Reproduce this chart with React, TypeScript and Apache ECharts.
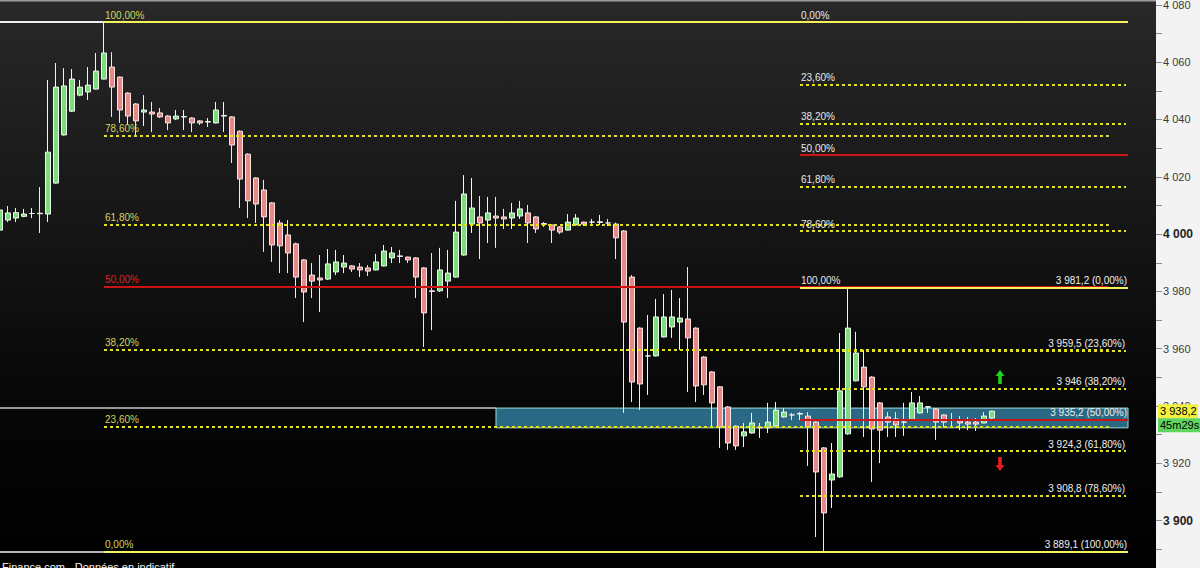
import React, { useEffect, useRef } from "react";
import * as echarts from "echarts";

// ---- candle data ----
const opens = [
  4001.4, 4004.9, 4005.6, 4006.2, 4007.2, 4007.3, 4007.0, 4017.8, 4034.6, 4042.9,
  4048.5, 4049.6, 4050.6, 4054.1, 4058.3, 4054.8, 4049.2, 4045.4, 4042.6, 4042.6,
  4042.3, 4041.2, 4040.2, 4040.9, 4040.5, 4039.5, 4039.1, 4038.8, 4041.2, 4040.9,
  4035.9, 4027.9, 4019.6, 4015.4, 4010.9, 4003.9, 3999.7, 3996.6, 3991.0, 3985.7,
  3984.7, 3984.3, 3986.8, 3988.5, 3988.9, 3988.5, 3988.2, 3987.5, 3988.9, 3991.7,
  3992.4, 3992.0, 3991.7, 3988.2, 3980.2, 3980.2, 3983.6, 3985.0, 3992.7, 4003.5,
  4006.0, 4004.9, 4006.3, 4006.0, 4005.6, 4006.3, 4007.4, 4006.0, 4003.7, 4003.2,
  4002.5, 4001.4, 4003.2, 4004.2, 4004.2, 4004.1, 4003.9, 4003.5, 4001.1, 3985.0,
  3967.2, 3957.5, 3957.5, 3964.1, 3967.6, 3969.3, 3970.4, 3967.2, 3957.1, 3951.9,
  3946.7, 3939.7, 3933.0, 3929.6, 3930.6, 3932.4, 3932.4, 3933.0, 3936.2, 3936.9,
  3937.2, 3936.5, 3934.4, 3925.4, 3914.2, 3915.3, 3930.3, 3948.8, 3953.6, 3950.1,
  3941.1, 3936.2, 3935.5, 3934.4, 3935.1, 3937.6, 3939.6, 3939.0, 3936.9, 3935.3,
  3934.8, 3934.4, 3934.4, 3934.1, 3935.8,
];
const closes = [
  4008.4, 4007.4, 4007.5, 4007.0, 4007.2, 4007.1, 4028.6, 4051.3, 4051.7, 4054.1,
  4051.3, 4052.0, 4056.9, 4063.2, 4051.3, 4043.3, 4041.2, 4039.5, 4043.3, 4041.9,
  4040.9, 4038.8, 4041.2, 4041.0, 4038.8, 4038.8, 4039.3, 4043.3, 4041.4, 4031.1,
  4019.2, 4011.6, 4010.5, 4006.0, 3996.2, 3995.9, 3993.4, 3985.0, 3979.8, 3983.6,
  3984.0, 3989.6, 3990.3, 3989.9, 3987.8, 3987.5, 3987.1, 3990.3, 3994.1, 3993.4,
  3992.2, 3991.0, 3985.0, 3972.5, 3980.0, 3987.5, 3986.4, 4000.7, 4014.0, 4009.1,
  4003.9, 4007.4, 4005.6, 4005.3, 4007.4, 4008.8, 4003.9, 4001.8, 4003.4, 4001.4,
  4000.7, 4004.2, 4005.6, 4003.5, 4004.2, 4004.3, 4003.9, 3998.7, 3969.3, 3948.4,
  3947.7, 3957.5, 3971.1, 3971.1, 3971.1, 3970.7, 3963.8, 3947.0, 3947.4, 3941.1,
  3932.7, 3927.1, 3926.1, 3931.0, 3934.1, 3932.6, 3934.4, 3938.6, 3937.9, 3936.9,
  3937.4, 3932.7, 3917.0, 3902.7, 3916.3, 3945.3, 3967.2, 3958.5, 3946.7, 3932.0,
  3931.6, 3934.4, 3933.4, 3934.4, 3941.1, 3941.1, 3939.8, 3934.4, 3934.4, 3935.1,
  3934.1, 3933.7, 3933.7, 3936.5, 3938.2,
];
const lows = [
  4000.0, 4004.2, 4004.2, 4005.9, 4005.6, 4000.4, 4004.2, 4017.6, 4034.4, 4042.6,
  4048.1, 4046.8, 4050.4, 4054.0, 4040.9, 4038.8, 4038.1, 4034.2, 4037.7, 4035.6,
  4040.5, 4036.3, 4039.8, 4036.3, 4035.6, 4038.1, 4037.4, 4038.6, 4035.6, 4024.8,
  4009.1, 4005.6, 4003.9, 3993.8, 3990.3, 3986.4, 3986.4, 3977.7, 3969.3, 3977.7,
  3972.8, 3984.0, 3985.7, 3986.4, 3986.8, 3985.0, 3985.4, 3987.3, 3988.7, 3989.9,
  3989.9, 3989.9, 3977.7, 3960.6, 3966.5, 3979.8, 3977.7, 3984.8, 3992.5, 4000.4,
  3991.3, 3996.9, 3995.2, 4001.8, 4001.8, 4005.3, 3996.9, 4000.4, 4002.5, 3996.9,
  4000.0, 4001.2, 4003.0, 4002.8, 4002.8, 4003.2, 4002.8, 3991.3, 3937.6, 3941.4,
  3938.6, 3943.9, 3957.3, 3964.0, 3963.8, 3959.6, 3944.9, 3941.4, 3943.9, 3933.0,
  3925.4, 3924.7, 3924.7, 3925.7, 3930.4, 3928.9, 3930.6, 3932.8, 3936.0, 3935.1,
  3935.1, 3919.1, 3894.3, 3889.1, 3904.4, 3915.0, 3930.0, 3948.6, 3929.2, 3913.5,
  3920.1, 3929.2, 3929.2, 3929.6, 3935.0, 3937.4, 3937.6, 3928.2, 3932.7, 3932.7,
  3931.6, 3931.6, 3931.3, 3934.0, 3935.6,
];
const highs = [
  4011.9, 4009.8, 4009.1, 4008.8, 4009.1, 4016.4, 4053.8, 4059.7, 4057.9, 4057.6,
  4053.8, 4058.3, 4063.2, 4074.0, 4063.5, 4055.0, 4049.5, 4045.7, 4048.5, 4046.1,
  4044.0, 4041.5, 4043.3, 4043.3, 4040.8, 4039.8, 4040.5, 4046.1, 4046.1, 4041.2,
  4036.2, 4028.2, 4019.9, 4018.9, 4011.2, 4004.9, 4004.9, 3997.0, 3991.3, 3989.9,
  3992.7, 3994.8, 3994.5, 3992.7, 3989.2, 3989.9, 3989.2, 3993.1, 3996.2, 3995.5,
  3994.5, 3992.1, 3992.0, 3988.5, 3993.4, 3995.2, 3994.5, 4011.6, 4020.6, 4019.6,
  4013.3, 4013.0, 4013.0, 4008.8, 4010.9, 4011.6, 4010.2, 4006.3, 4004.2, 4003.4,
  4002.8, 4007.0, 4007.0, 4004.3, 4005.3, 4006.7, 4005.3, 4004.0, 4001.4, 3985.7,
  3967.5, 3971.8, 3977.4, 3979.1, 3980.5, 3977.7, 3988.5, 3967.5, 3957.4, 3952.2,
  3947.0, 3940.0, 3933.3, 3934.1, 3937.6, 3934.1, 3941.1, 3941.4, 3939.3, 3937.6,
  3937.9, 3937.9, 3934.7, 3925.7, 3927.1, 3965.5, 3981.2, 3965.9, 3959.6, 3950.4,
  3941.4, 3937.9, 3937.9, 3941.1, 3944.9, 3943.5, 3940.0, 3939.3, 3937.2, 3937.6,
  3936.5, 3936.2, 3935.8, 3937.9, 3938.4,
];

// ---- Fibonacci anchors & levels ----
const fibPcts = [0, 23.6, 38.2, 50, 61.8, 78.6, 100];
const swingHigh = 4074.0; // high of candle 13
const swingLow = 3889.1; // low of candle 103
const reboundHigh = 3981.2; // high of candle 106
const leftFibStart = 13;
const leftFibEnd = 138.6;
const rightFibStart = 100;
const rightFibEnd = 141;
const rightDottedEnd = 140.75;

// ---- zone, arrows, current price ----
const zoneStart = 62;
const zoneTop = 3939.3;
const zoneBottom = 3932.4;
const arrowX = 125;
const upArrowPrice = 3950.1;
const downArrowPrice = 3919.8;
const lastPrice = 3938.2;
const countdown = "45m29s";
const footer = "Finance.com - Données en indicatif";

// ---- axes ----
const xMin = 0;
const xMax = 144.5;
const yMin = 3880;
const yMax = 4090;
const yStep = 10;
const yLabelStep = 20;

const FONT = "Liberation Sans";
const YEL_SOLID = "#f4f45a";
const YEL_DOT = "#e2e224";
const RED = "#cc1414";

function fmtInt(n: number): string {
  const s = String(Math.trunc(Math.abs(n)));
  return (n < 0 ? "-" : "") + s.replace(/\B(?=(\d{3})+(?!\d))/g, " ");
}
function fmtPrice(v: number): string {
  const r = Math.round(v * 10) / 10;
  const ip = Math.trunc(r);
  const dec = Math.round((r - ip) * 10);
  return dec === 0 ? fmtInt(ip) : `${fmtInt(ip)},${dec}`;
}
function fmtPct(p: number): string {
  return p.toFixed(2).replace(".", ",") + "%";
}

function levelStyle(p: number, dottedColor: string) {
  if (p === 0 || p === 100) return { color: YEL_SOLID, width: 2, type: "solid" as const };
  if (p === 50) return { color: RED, width: 2, type: "solid" as const };
  return { color: dottedColor, width: 2, type: [3, 3] };
}

function buildMarkLines() {
  const lines: any[] = [];
  // left retracement (swing high -> swing low)
  fibPcts.forEach((p) => {
    const price = swingLow + (p / 100) * (swingHigh - swingLow);
    lines.push([
      {
        xAxis: leftFibStart,
        yAxis: price,
        lineStyle: levelStyle(p, YEL_DOT),
        label: {
          show: true,
          position: "insideStartTop",
          distance: [1, 2],
          formatter: fmtPct(p),
          color: p === 50 ? "#e02020" : "#d4d45c",
          fontSize: 10,
          fontFamily: FONT,
        },
      },
      { xAxis: leftFibEnd, yAxis: price },
    ]);
  });
  // right upper retracement (swing high -> rebound high)
  fibPcts.forEach((p) => {
    const price = swingHigh - (p / 100) * (swingHigh - reboundHigh);
    const solid = p === 0 || p === 100 || p === 50;
    lines.push([
      {
        xAxis: rightFibStart,
        yAxis: price,
        lineStyle: levelStyle(p, YEL_DOT),
        label: {
          show: true,
          position: "insideStartTop",
          distance: [1, 2],
          formatter: fmtPct(p),
          color: "#e8e8e8",
          fontSize: 10,
          fontFamily: FONT,
        },
      },
      { xAxis: solid ? rightFibEnd : rightDottedEnd, yAxis: price },
    ]);
  });
  // right lower retracement (rebound high -> swing low)
  fibPcts.forEach((p) => {
    const price = reboundHigh - (p / 100) * (reboundHigh - swingLow);
    const solid = p === 0 || p === 100 || p === 50;
    lines.push([
      {
        xAxis: rightFibStart,
        yAxis: price,
        lineStyle: levelStyle(p, YEL_DOT),
        label: {
          show: true,
          position: "insideEndTop",
          distance: [1, 2],
          formatter: `${fmtPrice(price)} (${fmtPct(p)})`,
          color: "#f0f0f0",
          fontSize: 10,
          fontFamily: FONT,
        },
      },
      { xAxis: solid ? rightFibEnd : rightDottedEnd, yAxis: price },
    ]);
  });
  // extensions on the left
  lines.push([
    { xAxis: xMin, yAxis: swingHigh, lineStyle: { color: "#eeeeee", width: 2, type: "solid" }, label: { show: false } },
    { xAxis: leftFibStart, yAxis: swingHigh },
  ]);
  lines.push([
    { xAxis: xMin, yAxis: swingLow, lineStyle: { color: "#b4b4b4", width: 2, type: "solid" }, label: { show: false } },
    { xAxis: leftFibStart, yAxis: swingLow },
  ]);
  lines.push([
    { xAxis: xMin, yAxis: zoneTop, lineStyle: { color: "#c8c8c8", width: 1.5, type: "solid" }, label: { show: false } },
    { xAxis: zoneStart, yAxis: zoneTop },
  ]);
  return lines;
}

export default function App() {
  const ref = useRef<HTMLDivElement>(null);

  useEffect(() => {
    if (!ref.current) return;
    const chart = echarts.init(ref.current, null, { renderer: "svg" });
    const candles = opens.map((o, i) => [i, o, closes[i], lows[i], highs[i]]);

    const option: any = {
      animation: false,
      backgroundColor: "transparent",
      grid: {
        left: 0,
        right: 44,
        top: -23.8,
        bottom: -10,
        containLabel: false,
        outerBoundsMode: "none",
      },
      xAxis: { type: "value", min: xMin, max: xMax, show: false },
      yAxis: {
        type: "value",
        position: "right",
        min: yMin,
        max: yMax,
        interval: yStep,
        splitLine: { show: false },
        axisLine: { show: false, onZero: false },
        axisTick: { show: true, inside: false, length: 6, lineStyle: { color: "#8c8c8c", width: 1 } },
        axisLabel: {
          margin: 7,
          showMinLabel: false,
          showMaxLabel: false,
          color: "#3a3a3a",
          fontSize: 11,
          fontFamily: FONT,
          formatter: (v: number) => {
            if (Math.round(v) % yLabelStep !== 0) return "";
            const s = fmtInt(v);
            return Math.round(v) % 100 === 0 ? `{b|${s}}` : s;
          },
          rich: { b: { fontWeight: "bold", fontSize: 12, color: "#222", fontFamily: FONT } },
        },
      },
      series: [
        {
          type: "candlestick",
          data: candles,
          encode: { x: 0, y: [1, 2, 3, 4] },
          barWidth: 6,
          itemStyle: {
            color: "#7ddc7d",
            color0: "#ea8888",
            borderColor: "#eef8ee",
            borderColor0: "#f6e6e6",
            borderWidth: 1,
          },
          markArea: {
            silent: true,
            data: [
              [
                {
                  xAxis: zoneStart,
                  yAxis: zoneTop,
                  itemStyle: { color: "#2a6883", borderColor: "#9cdede", borderWidth: 1 },
                },
                { xAxis: rightFibEnd, yAxis: zoneBottom },
              ],
            ],
          },
          markLine: {
            silent: true,
            symbol: ["none", "none"],
            data: buildMarkLines(),
          },
          markPoint: {
            silent: true,
            label: { show: false },
            data: [
              {
                coord: [arrowX, upArrowPrice],
                symbol: "path://M5,0 L10,6 L7,6 L7,14 L3,14 L3,6 L0,6 Z",
                symbolSize: [9, 14],
                itemStyle: { color: "#1fd11f" },
              },
              {
                coord: [arrowX, downArrowPrice],
                symbol: "path://M3,0 L7,0 L7,8 L10,8 L5,14 L0,8 L3,8 Z",
                symbolSize: [9, 14],
                itemStyle: { color: "#e51c1c" },
              },
            ],
          },
        },
      ],
    };
    chart.setOption(option);

    const yLast = chart.convertToPixel({ yAxisIndex: 0 }, lastPrice) as number;
    chart.setOption({
      graphic: [
        {
          type: "rect",
          z: 100,
          shape: { x: 1158, y: yLast - 7, width: 40, height: 14 },
          style: { fill: "#f2f23c" },
        },
        {
          type: "text",
          z: 101,
          x: 1160,
          y: yLast - 6,
          style: { text: fmtPrice(lastPrice), fill: "#000", font: `11px "${FONT}"` },
        },
        {
          type: "rect",
          z: 100,
          shape: { x: 1158, y: yLast + 7, width: 42, height: 14 },
          style: { fill: "#5fd45f" },
        },
        {
          type: "text",
          z: 101,
          x: 1160,
          y: yLast + 8.5,
          style: { text: countdown, fill: "#000", font: `11px "${FONT}"` },
        },
        {
          type: "text",
          z: 101,
          x: 2,
          y: 561,
          style: { text: footer, fill: "#f4f4f4", font: `11px "${FONT}"` },
        },
      ],
    });

    return () => chart.dispose();
  }, []);

  return (
    <div
      style={{
        position: "fixed",
        left: 0,
        top: 0,
        width: 1200,
        height: 568,
        background:
          "linear-gradient(to right, rgba(0,0,0,0) 1156px, #f3f3f3 1156px), linear-gradient(to bottom, #9c9c9c 0px, #9c9c9c 1px, #282828 2px, #181818 35%, #070707 70%, #000 100%)",
      }}
    >
      <div ref={ref} style={{ width: 1200, height: 568 }} />
    </div>
  );
}
